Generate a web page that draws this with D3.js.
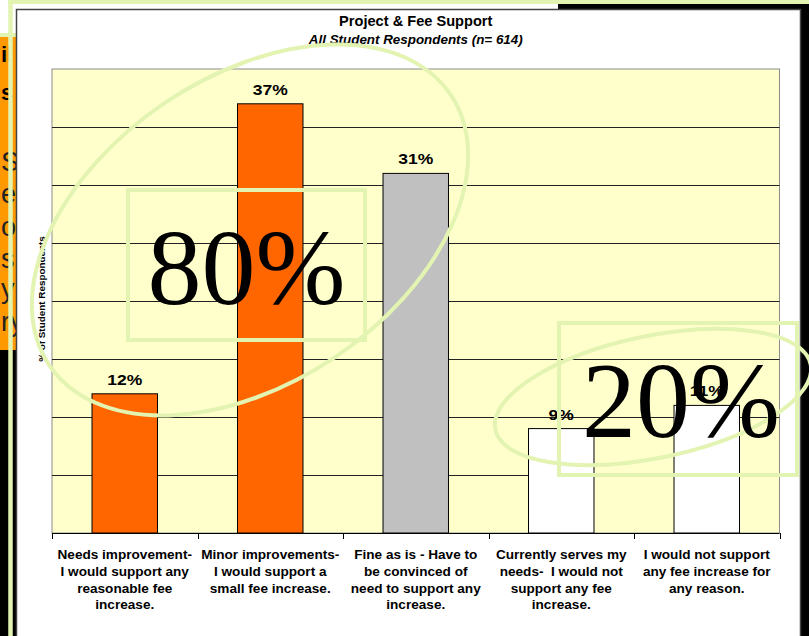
<!DOCTYPE html>
<html><head><meta charset="utf-8">
<script src="https://cdn.jsdelivr.net/npm/d3@7/dist/d3.min.js"></script>
<style>html,body{margin:0;padding:0;background:#000;}svg{display:block;}text{white-space:pre;}</style>
</head><body>
<script>
// ---- data ----
const categories = [
  ["Needs improvement-","I would support any","reasonable fee","increase."],
  ["Minor improvements-","I would support a","small fee increase."],
  ["Fine as is - Have to","be convinced of","need to support any","increase."],
  ["Currently serves my","needs-  I would not","support any fee","increase."],
  ["I would not support","any fee increase for","any reason."]
];
const values = [12, 37, 31, 9, 11];
const groups = ["support","support","undecided","oppose","oppose"];
const yTicks = [0,5,10,15,20,25,30,35,40];
const title = "Project & Fee Support";
const subtitle = "All Student Respondents (n= 614)";
const yTitle = "% of Student Respondents";
const bigNotes = ["80%", "20%"];
const sideFragments = ["il","s","St","e","o","s","y","ry"];

// ---- drawing ----
const W = 809, H = 636;
const green = "#E3F3B1";
const svg = d3.select("body").append("svg").attr("width", W).attr("height", H);
svg.append("rect").attr("width", W).attr("height", H).attr("fill", "#000");

// backdrop of the slide
svg.append("rect").attr("x",0).attr("y",0).attr("width",558).attr("height",9).attr("fill","#fff");
svg.append("rect").attr("x",0).attr("y",0).attr("width",17).attr("height",37).attr("fill","#fff");
svg.append("rect").attr("x",0).attr("y",37).attr("width",17).attr("height",313).attr("fill","#FF9900");
const fragY = [62, 100, 171, 203, 236, 268, 298, 331];
const fragSize = [22, 22, 27, 27, 27, 27, 27, 27];
const fragWeight = ["bold","bold","normal","normal","normal","normal","normal","normal"];
sideFragments.forEach((t,i)=>{
  svg.append("text").attr("x",1).attr("y",fragY[i]).text(t)
    .attr("font-family","Liberation Sans, Arial, sans-serif")
    .attr("font-size",fragSize[i]).attr("font-weight",fragWeight[i]).attr("fill", i<2?"#000":"#222");
});
svg.append("line").attr("x1",0).attr("x2",17).attr("y1",35).attr("y2",35).attr("stroke",green).attr("stroke-width",4);
svg.append("line").attr("x1",10.5).attr("x2",10.5).attr("y1",1).attr("y2",H).attr("stroke",green).attr("stroke-width",4.5);
svg.append("line").attr("x1",8).attr("x2",W).attr("y1",2).attr("y2",2).attr("stroke",green).attr("stroke-width",4);

// chart box
svg.append("rect").attr("x",16.5).attr("y",9.5).attr("width",784).attr("height",640)
  .attr("fill","#fff").attr("stroke","#444").attr("stroke-width",1.5);

const plot = {left:52, right:779.5, top:69, bottom:533};
const x = d3.scaleBand().domain(d3.range(categories.length))
  .range([plot.left, plot.right]).paddingInner(0.55).paddingOuter(0.275);
const y = d3.scaleLinear().domain([0, 40]).range([plot.bottom, plot.top]);
const color = d3.scaleOrdinal().domain(["support","undecided","oppose"]).range(["#FF6600","#C0C0C0","#FFFFFF"]);

svg.append("rect").attr("x",plot.left).attr("y",plot.top)
  .attr("width",plot.right-plot.left).attr("height",plot.bottom-plot.top)
  .attr("fill","#FFFFCC").attr("stroke","#8c8c8c").attr("stroke-width",1);

// gridlines
svg.append("g").selectAll("line").data(yTicks.filter(d=>d>0 && d<40)).join("line")
  .attr("x1",plot.left).attr("x2",plot.right)
  .attr("y1",d=>Math.round(y(d))+0.5).attr("y2",d=>Math.round(y(d))+0.5)
  .attr("stroke","#222").attr("stroke-width",1);

// bars
svg.append("g").selectAll("rect").data(values).join("rect")
  .attr("x",(d,i)=>x(i)).attr("width",x.bandwidth())
  .attr("y",d=>y(d)).attr("height",d=>plot.bottom-y(d))
  .attr("fill",(d,i)=>color(groups[i])).attr("stroke","#000").attr("stroke-width",1);

// x axis with ticks at category boundaries
const xAxisG = svg.append("g").attr("transform",`translate(0,${plot.bottom})`);
xAxisG.append("line").attr("x1",plot.left).attr("x2",plot.right).attr("y1",0.5).attr("y2",0.5).attr("stroke","#000");
const boundaries = d3.range(categories.length+1).map(i=>plot.left + i*x.step());
xAxisG.selectAll("line.tk").data(boundaries).join("line").attr("class","tk")
  .attr("x1",d=>Math.round(d)+0.5).attr("x2",d=>Math.round(d)+0.5).attr("y1",0).attr("y2",6).attr("stroke","#000");

// category labels
categories.forEach((lines,i)=>{
  const t = svg.append("text").attr("text-anchor","middle")
    .attr("font-family","Liberation Sans, Arial, sans-serif").attr("font-weight","bold")
    .attr("font-size",13.6).attr("fill","#000");
  lines.forEach((ln,j)=>{
    t.append("tspan").attr("x",x(i)+x.bandwidth()/2).attr("y",559 + j*16.8).text(ln);
  });
});

// value labels
svg.append("g").selectAll("text").data(values).join("text")
  .attr("transform",(d,i)=>`translate(${x(i)+x.bandwidth()/2},${y(d)-9}) scale(1.13,1)`)
  .attr("text-anchor","middle").attr("font-family","Liberation Sans, Arial, sans-serif")
  .attr("font-weight","bold").attr("font-size",15.5).attr("fill","#000")
  .text(d=>d+"%");

// titles
svg.append("text").attr("x",(plot.left+plot.right)/2).attr("y",26).attr("text-anchor","middle")
  .attr("font-family","Liberation Sans, Arial, sans-serif").attr("font-weight","bold").attr("font-size",14.6)
  .text(title);
svg.append("text").attr("x",(plot.left+plot.right)/2).attr("y",43.5).attr("text-anchor","middle")
  .attr("font-family","Liberation Sans, Arial, sans-serif").attr("font-weight","bold").attr("font-style","italic").attr("font-size",13.4)
  .text(subtitle);
svg.append("text").attr("transform","translate(44.5,299) rotate(-90)").attr("text-anchor","middle")
  .attr("font-family","Liberation Sans, Arial, sans-serif").attr("font-weight","bold").attr("font-size",9.9)
  .text(yTitle);

// overlay annotations
svg.append("ellipse").attr("cx",0).attr("cy",0).attr("rx",242).attr("ry",153)
  .attr("transform","translate(250,230) rotate(-34)")
  .attr("fill","none").attr("stroke",green).attr("stroke-width",4);
svg.append("ellipse").attr("cx",0).attr("cy",0).attr("rx",161).attr("ry",61)
  .attr("transform","translate(653,397) rotate(-11.7)")
  .attr("fill","none").attr("stroke",green).attr("stroke-width",4);
svg.append("rect").attr("x",128).attr("y",190).attr("width",237).attr("height",150)
  .attr("fill","none").attr("stroke",green).attr("stroke-width",4);
svg.append("rect").attr("x",559).attr("y",323).attr("width",238).attr("height",152)
  .attr("fill","none").attr("stroke",green).attr("stroke-width",4);
svg.append("text").attr("x",246.5).attr("y",304).attr("text-anchor","middle")
  .attr("font-family","Liberation Serif, Times New Roman, serif").attr("font-size",108).attr("fill","#000")
  .text(bigNotes[0]);
svg.append("text").attr("x",681).attr("y",437).attr("text-anchor","middle")
  .attr("font-family","Liberation Serif, Times New Roman, serif").attr("font-size",108).attr("fill","#000")
  .text(bigNotes[1]);
</script>
</body></html>
